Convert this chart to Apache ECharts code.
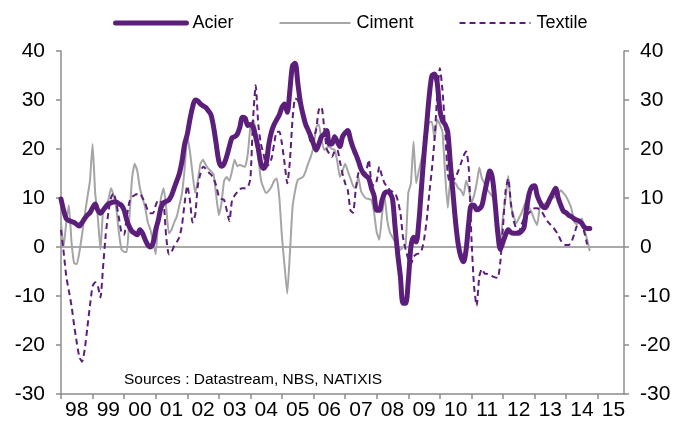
<!DOCTYPE html>
<html>
<head>
<meta charset="utf-8">
<script src="https://cdn.jsdelivr.net/npm/echarts@6/dist/echarts.min.js"></script>
<style>
  html, body { margin: 0; padding: 0; background: #fff; }
  #chart { width: 689px; height: 428px; }
</style>
</head>
<body>
<div id="chart"></div>
<script>
// year labels on the x axis (one per year, centred mid-year)
const years = ['98', '99', '00', '01', '02', '03', '04', '05', '06', '07', '08', '09', '10', '11', '12', '13', '14', '15'];

// monthly series, starting Jan 1998 (% y/y)
const acier = [
  9.8, 7.5, 5.8, 5.4, 5.2, 5.0, 4.6, 4.3, 5.0, 5.8, 6.5, 7.0,
  8.0, 8.8, 7.5, 6.9, 7.5, 8.2, 8.8, 9.0, 9.2, 9.2, 8.8, 8.5,
  7.5, 5.5, 4.1, 3.2, 2.8, 2.5, 3.5, 2.8, 1.5, 0.4, 0.0, 0.8,
  3.5, 5.5, 8.0, 9.0, 9.3, 9.6, 10.5, 12.0, 13.5, 15.0, 17.5, 21.0,
  23, 26, 28.5, 30, 29.8, 29.2, 28.8, 28.5, 27.8, 27, 24.5, 21,
  17.5, 16.5, 17.0, 18.5, 20.5, 22.3, 22.5, 23, 24.5, 26.5, 26.3, 24.8,
  25, 24.5, 22.5, 20, 17, 16, 17, 21, 23.5, 25, 26, 27,
  28.5, 29.2, 27.5, 32, 37, 37.5, 33.5, 29.5, 27, 25, 23.8, 22.5,
  21, 19.8, 21, 22.5, 23, 23.8, 21, 21, 22.5, 21.5, 20.5, 22.5,
  23.3, 23.8, 22, 20.3, 19, 17.6, 16, 15, 14.5, 14, 12, 10.5,
  7.5, 7.5, 9.5, 11, 11.3, 11.0, 9.8, 4, -1.5, -6, -11.5, -11.5,
  -7, 0, 2.0, 1, 5, 12, 19, 25, 31, 35, 35.3, 33.5,
  28, 25.8, 25, 23.5, 17, 11, 5, 0.5, -2, -3, -0.5, 5,
  8.5, 8.5, 7.6, 7.8, 8.5, 11, 13.5, 15.5, 14, 9, 3, -0.5,
  1, 2.5, 3.5, 3.0, 2.8, 2.8, 2.8, 3.2, 4, 8, 11, 12.3,
  12.5, 10.5, 9.2, 8.3, 8, 8.8, 10, 11, 12, 10, 8.5, 7.3,
  7, 6.5, 6.2, 5.8, 5.5, 5.3, 4.8, 4, 3.8, 3.8
];

const ciment = [
  5, 0, 5, 8.5, 1, -3.3, -3.5, -1, 2.5, 6.5, 10, 13.5,
  21, 11, 6, -0.5, 7.5, 8.5, 9.6, 12, 10.5, 8, 3, -0.5,
  -1, -1, 6, 14, 17, 15.5, 12, 10, 8, 5, 3.5, 1,
  -1.5, 6, 10, 12, 8, 2.8, 3.5, 5, 6.2, 8.5, 11, 16,
  22.5, 19.5, 15, 11, 13.5, 17, 17.8, 16.8, 16, 15.5, 14.8, 10.5,
  6.5, 9, 13.5, 14.3, 13.5, 15.5, 17.8, 16.5, 16.8, 16.5, 16.4, 19,
  24.5, 26, 24, 18.4, 13.7, 12, 11, 11.5, 12.3, 13.5, 14, 10,
  2, -4, -9.5, -1.3, 8, 11.5, 13.7, 14, 14.3, 15.5, 17.1, 18.5,
  20.5, 24.5, 25, 22, 19.8, 20.3, 20.5, 20, 19.8, 17.5, 14.3, 15.5,
  17, 15.5, 14, 12.5, 12, 14.3, 11.5, 10.5, 9.9, 9.8, 9.6, 7,
  3, 1.5, 6.5, 10.3, 5.5, 3, 2, 1, 0, -0.6, 0, 0.5,
  11, 13, 21.5, 13, 15.5, 17.8, 20, 22.5, 25.5, 25.5, 22, 26,
  25, 23.5, 15, 8, 13.5, 13.2, 13, 12, 11.6, 10.5, 13.5, 12,
  9, 10.5, 13, 16.2, 14, 13, 11.8, 11, 10.3, 8.5, 5, 0.5,
  6.2, 10, 14.5, 8.5, 6.5, 4.8, 5.8, 6.9, 8.3, 9.6, 8, 6.9,
  5.5, 4.5, 8.2, 8.5, 8.9, 9.3, 9.6, 10, 10.3, 10.8, 11.6, 11,
  10.3, 9.2, 7.9, 5.2, 4.6, 5.2, 5.8, 3.5, 1.5, -0.8
];

const textile = [
  3.5, -1, -6, -9, -12, -16, -19.5, -22.5, -23.4, -21, -16.5, -12,
  -8, -7.2, -8, -10.3, -4, 2.5, 7, 10, 11, 9, 6, 3,
  2.5, 6.2, 9.2, 10.2, 10.6, 10.8, 10.9, 10, 8.9, 7.5, 6.9, 6.9,
  8.5, 9.6, 9.2, 8.9, 2, -1.5, -1, 0.2, 1, 2, 4.5, 9,
  12.5, 9.6, 5, 6.5, 12.5, 15, 16.4, 16, 15.3, 14.8, 14, 12.5,
  10.3, 9.8, 9.6, 7.5, 5.3, 9.5, 10.5, 11.2, 11.8, 12, 12, 12.2,
  14, 26, 33, 25, 21, 19, 16.5, 16.8, 18, 21, 23.5, 23.5,
  21, 17, 13, 17.5, 26, 30.3, 30, 28.5, 27.3, 25.5, 24, 21,
  22, 24, 28, 28.6, 24.5, 20, 19, 18.4, 19.5, 19.8, 17.5, 15,
  13, 11.6, 7.5, 7, 11.5, 15, 15.5, 14.8, 15.5, 17.8, 13, 12.5,
  13.5, 16.4, 14.5, 13, 12.3, 11.6, 11.3, 11, 9.5, 7, 2, -0.5,
  -2.5, -3.5, -2, -1.5, -1.3, -0.8, 1.5, 5.5, 11, 16, 22, 31,
  36.5, 32, 24, 15, 13, 13.5, 14.3, 15.5, 17, 18.6, 19.5, 16,
  2, -8, -12, -6, -4.5, -5.4, -5.5, -5.7, -6, -6.2, -6.3, -3,
  4.1, 11.5, 14, 9, 5.5, 3.8, 3.1, 4.5, 5.8, 6.5, 7, 7.7,
  7.9, 7.9, 7.6, 7, 6, 5.2, 4.6, 4.1, 3.3, 2.5, 1.3, 0.6,
  0.4, 0.4, 1, 2.5, 4.2, 5.2, 4.5, 2.8, 0.5
];

// monthly categories Jan 1998 .. Nov 2015 (axis end)
const months = [];
for (let y = 1998; y <= 2015; y++) {
  for (let m = 1; m <= 12; m++) {
    if (y === 2015 && m > 11) break;
    months.push(y + '-' + (m < 10 ? '0' + m : m));
  }
}

const purple = '#5B1F7B';
const grey = '#A5A5A5';
const axisGrey = '#8C8C8C';
const font = '"Liberation Sans", Arial, sans-serif';

const chart = echarts.init(document.getElementById('chart'));

// y axis shared settings
const yAxisBase = {
  type: 'value',
  min: -30,
  max: 40,
  interval: 10,
  axisLine: { show: true, lineStyle: { color: axisGrey, width: 1.5 } },
  axisTick: { show: true, inside: false, length: 5, lineStyle: { color: axisGrey, width: 1.5 } },
  axisLabel: { color: '#000', fontSize: 21, fontFamily: font, margin: 16 },
  splitLine: { show: false }
};

// legend entries: line only, no marker
const noMarker = { color: 'rgba(0,0,0,0)', borderWidth: 0, opacity: 0 };

const options = {
  animation: false,
  backgroundColor: '#fff',
  legend: {
    left: 108,
    top: 9,
    itemWidth: 71,
    itemHeight: 12,
    itemGap: 45,
    textStyle: { fontSize: 18, fontFamily: font, color: '#000', padding: [0, 0, 0, 1] },
    data: [
      { name: 'Acier', itemStyle: noMarker, lineStyle: { width: 5, color: purple, cap: 'round' } },
      { name: 'Ciment', itemStyle: noMarker, lineStyle: { width: 2, color: grey } },
      { name: 'Textile', itemStyle: noMarker, lineStyle: { width: 2, color: purple, type: [6, 4] } }
    ]
  },
  grid: { left: 61, right: 65, top: 51, bottom: 34 },
  xAxis: {
    type: 'category',
    data: months,
    boundaryGap: false,
    axisLine: { show: true, onZero: false, lineStyle: { color: axisGrey, width: 1.5 } },
    axisTick: {
      show: true,
      length: 5,
      interval: (i) => i % 12 === 0,
      lineStyle: { color: axisGrey, width: 1.5 }
    },
    axisLabel: {
      interval: (i) => i % 12 === 6,
      formatter: (v, i) => years[Math.floor(i / 12)],
      color: '#000',
      fontSize: 21,
      fontFamily: font,
      margin: 6
    },
    splitLine: { show: false }
  },
  yAxis: [
    Object.assign({}, yAxisBase, { position: 'left' }),
    Object.assign({}, yAxisBase, { position: 'right' })
  ],
  graphic: [
    {
      type: 'text',
      left: 124,
      top: 372,
      style: { text: 'Sources : Datastream, NBS, NATIXIS', fontSize: 15.5, fontFamily: font, fill: '#000' }
    }
  ],
  series: [
    {
      name: 'Ciment',
      type: 'line',
      data: ciment,
      showSymbol: false,
      symbol: 'none',
      smooth: 0.15,
      z: 2,
      lineStyle: { color: grey, width: 2 },
      itemStyle: { color: grey },
      // zero line
      markLine: {
        silent: true,
        symbol: 'none',
        label: { show: false },
        lineStyle: { color: axisGrey, width: 1.5, type: 'solid' },
        data: [{ yAxis: 0 }],
        z: 1
      }
    },
    {
      name: 'Textile',
      type: 'line',
      data: textile,
      showSymbol: false,
      symbol: 'none',
      smooth: 0.2,
      z: 3,
      lineStyle: { color: purple, width: 2, type: [6, 4] },
      itemStyle: { color: purple }
    },
    {
      name: 'Acier',
      type: 'line',
      data: acier,
      showSymbol: false,
      symbol: 'none',
      smooth: 0.3,
      z: 4,
      lineStyle: { color: purple, width: 5, cap: 'round', join: 'round' },
      itemStyle: { color: purple }
    }
  ]
};

chart.setOption(options);
</script>
</body>
</html>
